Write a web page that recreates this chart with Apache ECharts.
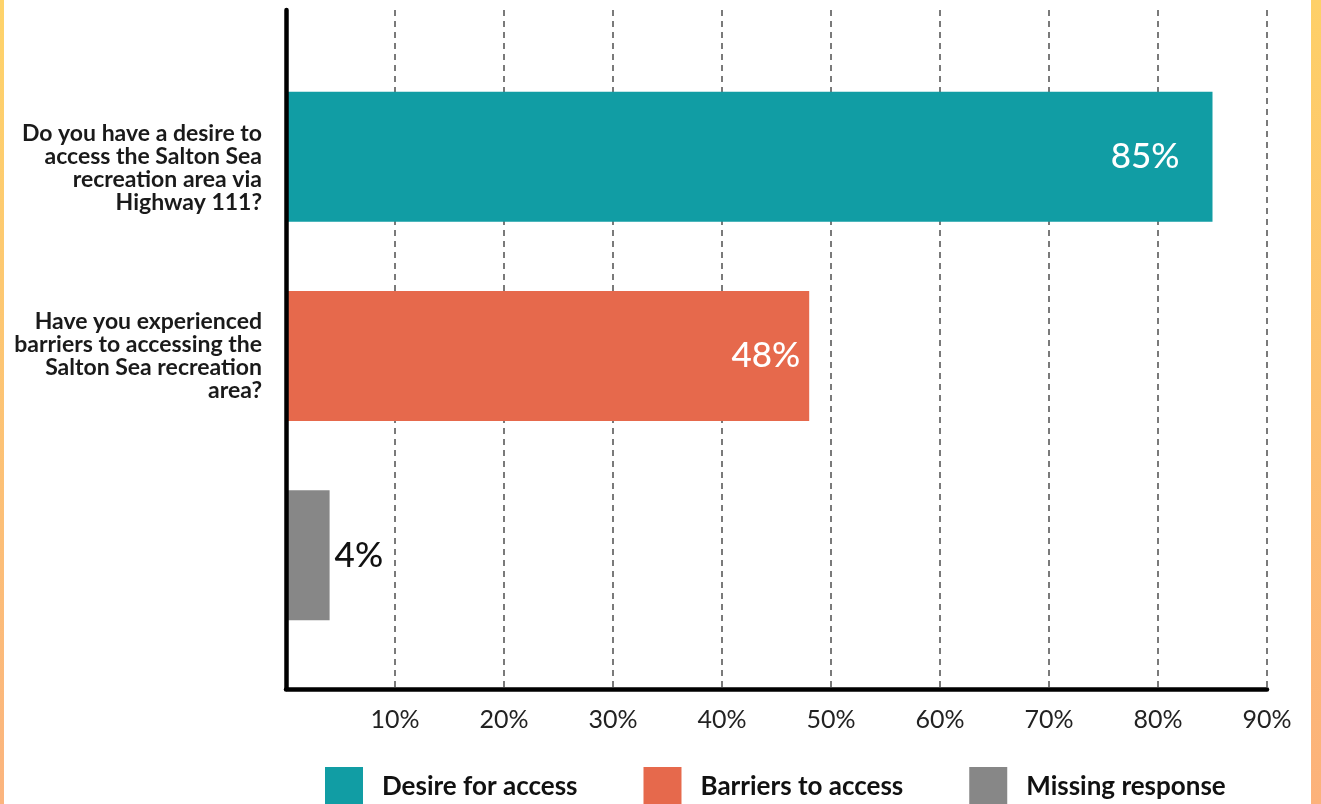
<!DOCTYPE html>
<html>
<head>
<meta charset="utf-8">
<title>Salton Sea access survey</title>
<script src="https://cdn.jsdelivr.net/npm/echarts@6/dist/echarts.min.js"></script>
<style>
  html, body { margin: 0; padding: 0; background: #ffffff; }
  #chart { width: 1321px; height: 804px; }
</style>
</head>
<body>
<div id="chart"></div>
<script>
// Survey questions (one bar each), line breaks kept as laid out
const questions = [
  'Do you have a desire to\naccess the Salton Sea\nrecreation area via\nHighway 111?',
  'Have you experienced\nbarriers to accessing the\nSalton Sea recreation\narea?',
  ''
];
const seriesNames = ['Desire for access', 'Barriers to access', 'Missing response'];
const shares = [85, 48, 4];
const seriesColors = ['#119da4', '#e6694c', '#878787'];
const xMin = 0, xMax = 90, xStep = 10;

const FONT = 'Lato, "Open Sans", "DejaVu Sans", sans-serif';

// Per-series value label styles (inside white for long bars, outside dark for the short one)
const labelStyles = [
  { position: 'insideRight', distance: 33, color: '#ffffff' },
  { position: 'insideRight', distance: 9, color: '#ffffff' },
  { position: 'right', distance: 5, color: '#111111' }
];

const series = seriesNames.map((name, i) => ({
  name: name,
  type: 'bar',
  stack: 'responses',
  xAxisIndex: 1,
  yAxisIndex: 1,
  barWidth: 130,
  itemStyle: { color: seriesColors[i] },
  label: Object.assign({
    show: true,
    fontFamily: FONT,
    fontSize: 35,
    fontWeight: 500,
    formatter: '{c}%'
  }, labelStyles[i]),
  data: questions.map((_, j) => (j === i ? shares[i] : '-'))
}));

const chart = echarts.init(document.getElementById('chart'), null, { renderer: 'canvas' });

chart.setOption({
  animation: false,
  backgroundColor: '#ffffff',
  textStyle: { fontFamily: FONT },
  graphic: [
    {
      type: 'rect', left: 0, top: 0, z: 100,
      shape: { width: 4, height: 804 },
      style: { fill: new echarts.graphic.LinearGradient(0, 0, 0, 1, [
        { offset: 0, color: '#fed36a' }, { offset: 1, color: '#fbb47e' }]) }
    },
    {
      type: 'rect', left: 1311, top: 0, z: 100,
      shape: { width: 10, height: 804 },
      style: { fill: new echarts.graphic.LinearGradient(0, 0, 0, 1, [
        { offset: 0, color: '#fed068' }, { offset: 1, color: '#fcb27b' }]) }
    }
  ],
  legend: {
    left: 325,
    top: 767,
    padding: 0,
    itemWidth: 38,
    itemHeight: 40,
    itemGap: 66,
    icon: 'rect',
    selectedMode: false,
    data: seriesNames,
    textStyle: {
      fontFamily: FONT,
      fontSize: 26,
      fontWeight: 'bold',
      color: '#111111',
      padding: [0, 0, 2, 14]
    }
  },
  grid: [
    // frame: axis lines, dashed gridlines and tick labels
    { left: 286, right: 54, top: 10, bottom: 115 },
    // bars
    { left: 286, right: 54, top: 57, bottom: 149 }
  ],
  xAxis: [
    {
      type: 'value',
      gridIndex: 0,
      min: xMin,
      max: xMax,
      interval: xStep,
      axisLine: { show: true, lineStyle: { color: '#000000', width: 4.5 } },
      axisTick: { show: false },
      splitLine: { show: true, lineStyle: { color: '#7a7a7a', width: 2, type: [6, 5] } },
      axisLabel: {
        margin: 18,
        fontFamily: FONT,
        fontSize: 25,
        color: '#222222',
        formatter: v => (v === 0 ? '' : v + '%')
      }
    },
    {
      type: 'value',
      gridIndex: 1,
      min: xMin,
      max: xMax,
      show: false,
      splitLine: { show: false }
    }
  ],
  yAxis: [
    {
      type: 'category',
      gridIndex: 0,
      data: [''],
      z: 5,
      axisLine: { show: true, onZero: false, lineStyle: { color: '#000000', width: 4.5 } },
      axisTick: { show: false },
      axisLabel: { show: false },
      splitLine: { show: false }
    },
    {
      type: 'category',
      gridIndex: 1,
      inverse: true,
      data: questions,
      axisLine: { show: false },
      axisTick: { show: false },
      splitLine: { show: false },
      axisLabel: {
        margin: 24,
        fontFamily: FONT,
        fontSize: 23,
        fontWeight: 'bold',
        lineHeight: 23,
        color: '#1a1a1a',
        align: 'right',
        // the first question block sits slightly below its bar
        formatter: (v, i) => (i === 0 ? '\n' + v : v)
      }
    }
  ],
  series: series
});
</script>
</body>
</html>
